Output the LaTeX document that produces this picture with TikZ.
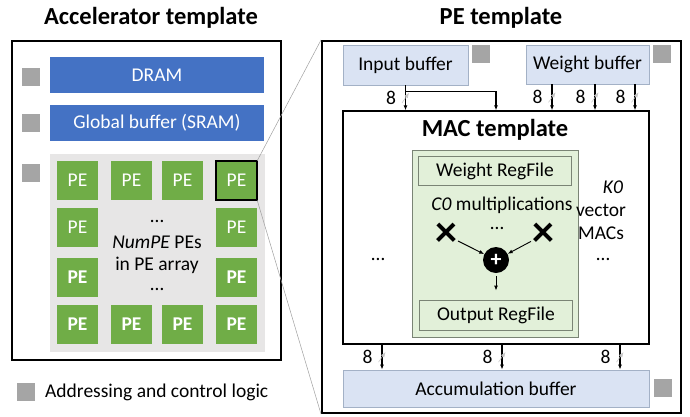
\documentclass[tikz,border=0pt]{standalone}
\usepackage{fontspec}
\setmainfont{Carlito}
\usepackage{tikz}
\usetikzlibrary{arrows.meta}

\definecolor{dramblue}{HTML}{4472C4}
\definecolor{pegreen}{HTML}{70AD47}
\definecolor{arraygray}{HTML}{E7E6E6}
\definecolor{ctrlgray}{HTML}{A5A5A5}
\definecolor{bufblue}{HTML}{DAE3F3}
\definecolor{bufedge}{HTML}{A3B1C6}
\definecolor{macgreen}{HTML}{E2F0D9}
\definecolor{macedge}{HTML}{7A8475}

\newcommand\basefont{\fontsize{19.5}{23}\selectfont}
\newcommand\titlefont{\fontsize{24.5}{28}\selectfont\bfseries}

\begin{document}
\begin{tikzpicture}
  [x=1pt, y=-1pt, font=\basefont,
   enode/.style={inner sep=0},
   dots/.style={inner sep=0, anchor=base},
   ctrl/.style={fill=ctrlgray, minimum size=18pt, inner sep=0},
   bar/.style={fill=dramblue, text=white, minimum width=214pt, minimum height=36pt, inner sep=0},
   pe/.style={fill=pegreen, text=white, minimum width=41pt, minimum height=39pt, inner sep=0},
   pebold/.style={pe, font=\basefont\bfseries},
   buf/.style={fill=bufblue, draw=bufedge, line width=0.8pt, inner sep=0},
   rf/.style={draw=macedge, line width=0.9pt, inner sep=0, minimum width=153pt, minimum height=29pt},
   mult/.style={inner sep=0, font=\fontsize{44}{44}\selectfont\bfseries},
   bus/.style={line width=1.1pt, -{Latex[length=5pt,width=4pt]}},
   slash/.pic={\draw[gray!45, line width=0.5pt] (-3.5,5) -- (3.5,-5);},
   zoomline/.style={draw=gray!75, line width=0.5pt}]

  \useasboundingbox (0,0) rectangle (690,416);

  % titles
  \node[enode, font=\titlefont] (acct) at (151,18) {Accelerator template};
  \node[enode, font=\titlefont] (pett) at (501,18) {PE template};

  % accelerator template
  \draw[line width=2pt] (12,41) rectangle (281,360);
  \node[bar] (dram) at (157,75) {DRAM};
  \node[bar] (glb) at (157,123) {Global buffer (SRAM)};
  \fill[arraygray] (50,154) rectangle (265,352);
  \node[ctrl] (c1) at (31,77) {};
  \node[ctrl] (c2) at (31,123) {};
  \node[ctrl] (c3) at (31,173) {};

  % PE array
  \foreach \c/\x in {1/77.5, 2/131.5, 3/182.5, 4/236.5} {
    \node[pe] (pe1\c) at (\x,180.5) {PE};
    \node[pebold] (pe4\c) at (\x,324.5) {PE};
  }
  \foreach \c/\x in {1/77.5, 4/236.5} {
    \node[pe] (pe2\c) at (\x,227.5) {PE};
    \node[pebold] (pe3\c) at (\x,277.5) {PE};
  }
  \draw[line width=1.6pt] (pe14.south west) rectangle (pe14.north east);
  \node[dots] (dt1) at (157,222) {…};
  \node[enode] (num) at (157,242) {\textit{NumPE} PEs};
  \node[enode] (arr) at (157,265.5) {in PE array};
  \node[dots] (dt2) at (157,290) {…};

  % legend
  \node[ctrl] (lg) at (26,392) {};
  \node[enode, anchor=west] (lgt) at (45,392) {Addressing and control logic};

  % PE template
  \node[draw, line width=2pt, minimum width=359pt, minimum height=372pt, inner sep=0] (pet) at (501.5,227) {};
  \draw[zoomline] (pe14.north east) -- (pet.north west);
  \draw[zoomline] (pe14.south east) -- (pet.south west);

  \node[buf, minimum width=125pt, minimum height=40pt] (ib) at (405.5,65) {Input buffer};
  \node[buf, minimum width=123pt, minimum height=39pt] (wb) at (587.5,64.5) {Weight buffer};
  \node[ctrl] (c4) at (480.5,54) {};
  \node[ctrl] (c5) at (662,54) {};

  \node[draw, line width=1.3pt, minimum width=306pt, minimum height=233pt, inner sep=0] (mac) at (496,227.5) {};
  \node[enode, font=\titlefont] (mact) at (495,130) {MAC template};

  \node[buf, minimum width=306pt, minimum height=37pt] (acc) at (496,388.5) {Accumulation buffer};
  \node[ctrl] (c6) at (662.5,388) {};

  % buses into MAC
  \draw[bus] (ib.south) -- (ib.south |- mac.north)
    node[enode, midway, left=9pt] {8} pic[midway] {slash};
  \draw[line width=1.6pt, -{Latex[length=5pt,width=4pt]}] ([yshift=-6pt]ib.south) -| (mac.north);
  \foreach \dx in {-35.5, 7.5, 47.5}
    \draw[bus] ([xshift=\dx pt]wb.south) -- ([xshift=\dx pt]wb.south |- mac.north)
      node[enode, midway, left=9pt] {8} pic[midway] {slash};

  % buses out of MAC
  \foreach \dx in {-114, 6, 124}
    \draw[bus] ([xshift=\dx pt]mac.south) -- ([xshift=\dx pt]mac.south |- acc.north)
      node[enode, midway, left=9pt] {8} pic[midway] {slash};

  % vector MAC
  \draw[fill=macgreen, draw=macedge, line width=1pt] (412,150) rectangle (578,337);
  \node[rf] (wrf) at (495,171) {Weight RegFile};
  \node[enode] (mul) at (502,205) {\textit{C0} multiplications};
  \node[mult] (x1) at (446,235) {×};
  \node[dots] (dt3) at (497,229) {…};
  \node[mult] (x2) at (543,235) {×};
  \node[circle, fill=black, text=white, minimum size=26pt, inner sep=0,
        font=\fontsize{22}{22}\selectfont\bfseries] (plus) at (496,260) {+};
  \node[rf, minimum height=30pt] (orf) at (496,315) {Output RegFile};
  \draw[bus, line width=0.9pt, shorten <=1pt] (x1) -- (plus);
  \draw[bus, line width=0.9pt, shorten <=1pt] (x2) -- (plus);
  \draw[bus, line width=0.9pt, shorten <=3pt, shorten >=9pt] (plus) -- (orf);

  % other MACs
  \node[dots] (dt4) at (378,260) {…};
  \node[enode] (k0) at (613,187) {\textit{K0}};
  \node[enode] (vec) at (601,210) {vector};
  \node[enode] (macs) at (601,233) {MACs};
  \node[dots] (dt5) at (603,260) {…};

\end{tikzpicture}
\end{document}
